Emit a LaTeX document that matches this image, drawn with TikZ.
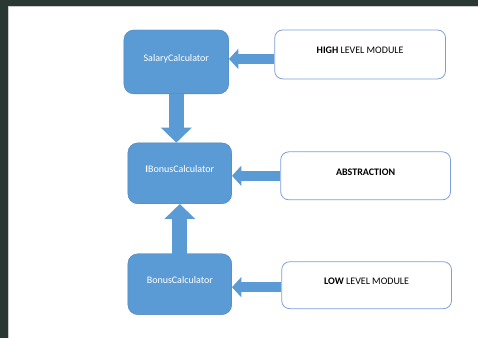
\documentclass[tikz,border=0pt]{standalone}
\usepackage{fontspec}
\setmainfont{Carlito}
\usetikzlibrary{arrows.meta}

\definecolor{frame}{HTML}{293832}
\definecolor{officeblue}{HTML}{5B9BD5}
\definecolor{blueedge}{HTML}{4A82B8}
\definecolor{lightedge}{HTML}{7F9FDA}

\tikzset{
  classbox/.style={draw=blueedge,fill=officeblue,rounded corners=10pt,
    text=white,font=\fontsize{10}{12}\selectfont,text height=7pt,text depth=8pt},
  levelbox/.style={draw=lightedge,line width=0.8pt,fill=white,rounded corners=8pt,
    font=\fontsize{10}{12}\selectfont,text height=7pt,text depth=8pt},
  blockarrow/.style={draw=officeblue,line width=10pt,
    -{Triangle[length=9.5pt 0 0,width=20pt 0 0]},color=officeblue},
  bigarrow/.style={draw=officeblue,line width=15pt,
    -{Triangle[length=15pt 0 0,width=30pt 0 0]},color=officeblue}
}

\begin{document}
\begin{tikzpicture}[x=1pt,y=-1pt]
  % Window frame and page
  \fill[frame] (0,0) rectangle (478,338);
  \fill[white] (8,6) rectangle (478,338);
  \draw[gray!40,line width=1pt] (8.5,338) -- (8.5,6.5) -- (478,6.5);
  \useasboundingbox (0,0) rectangle (478,338);

  % Classes
  \node[classbox,minimum width=105pt,minimum height=64pt] (salary) at (176.5,62) {SalaryCalculator};
  \node[classbox,minimum width=104pt,minimum height=61pt] (ibonus) at (180,173.5) {\textbf{I}BonusCalculator};
  \node[classbox,minimum width=104pt,minimum height=61pt] (bonus) at (180,284.5) {BonusCalculator};

  % Level labels
  \node[levelbox,minimum width=171pt,minimum height=49pt] (high) at (360.5,54.5) {\textbf{HIGH} LEVEL MODULE};
  \node[levelbox,minimum width=170pt,minimum height=48pt] (abstr) at (366,176) {\textbf{ABSTRACTION}};
  \node[levelbox,minimum width=170pt,minimum height=47pt] (low) at (367,285.5) {\textbf{LOW} LEVEL MODULE};

  % Dependencies
  \draw[bigarrow] (salary.south) -- (salary.south |- ibonus.north);
  \draw[bigarrow] (bonus.north) -- (bonus.north |- ibonus.south);

  % Level pointers
  \draw[blockarrow] ([yshift=-4.5pt]high.west) -- ([yshift=-4.5pt]high.west -| salary.east);
  \draw[blockarrow] (abstr.west) -- (abstr.west -| ibonus.east);
  \draw[blockarrow] ([yshift=-2pt]low.west) -- ([yshift=-2pt]low.west -| bonus.east);
\end{tikzpicture}
\end{document}
